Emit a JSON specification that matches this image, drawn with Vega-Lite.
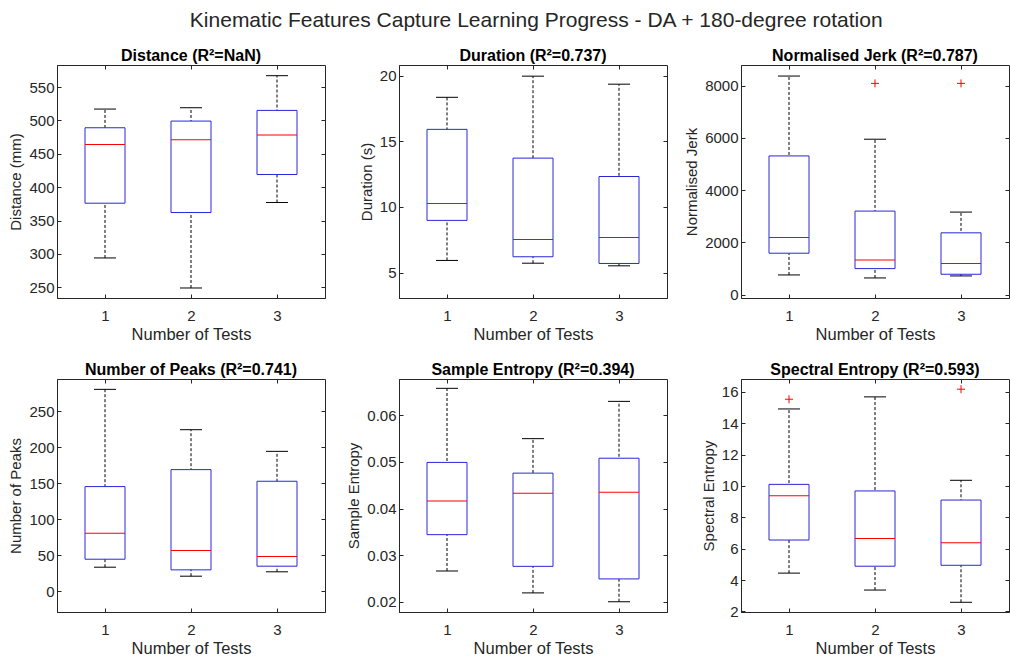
{
  "$schema": "https://vega.github.io/schema/vega-lite/v6.json",
  "title": {"text": "Kinematic Features Capture Learning Progress - DA + 180-degree rotation", "fontSize": 21, "fontWeight": "normal", "color": "#262626", "anchor": "middle", "offset": 16, "dx": 27},
  "padding": {"left": 8, "top": 10, "right": 0, "bottom": 0},
  "bounds": "flush",
  "columns": 3,
  "spacing": {"row": 81, "column": 74},
  "datasets": {
    "boxes": [
      {"panel": "Distance", "test": 1, "lo": 294, "q1": 376, "med": 464, "q3": 489, "hi": 517},
      {"panel": "Distance", "test": 2, "lo": 249, "q1": 362, "med": 471, "q3": 499, "hi": 519},
      {"panel": "Distance", "test": 3, "lo": 377, "q1": 419, "med": 478, "q3": 515, "hi": 567},
      {"panel": "Duration", "test": 1, "lo": 5.92, "q1": 8.97, "med": 10.25, "q3": 15.9, "hi": 18.34},
      {"panel": "Duration", "test": 2, "lo": 5.71, "q1": 6.2, "med": 7.52, "q3": 13.71, "hi": 19.95},
      {"panel": "Duration", "test": 3, "lo": 5.51, "q1": 5.69, "med": 7.67, "q3": 12.31, "hi": 19.34},
      {"panel": "Jerk", "test": 1, "lo": 755, "q1": 1587, "med": 2189, "q3": 5312, "hi": 8371},
      {"panel": "Jerk", "test": 2, "lo": 640, "q1": 998, "med": 1331, "q3": 3200, "hi": 5952},
      {"panel": "Jerk", "test": 3, "lo": 717, "q1": 781, "med": 1190, "q3": 2368, "hi": 3162},
      {"panel": "Peaks", "test": 1, "lo": 33.3, "q1": 44.4, "med": 80.6, "q3": 145.4, "hi": 280.6},
      {"panel": "Peaks", "test": 2, "lo": 20.8, "q1": 29.6, "med": 56.5, "q3": 169, "hi": 224.5},
      {"panel": "Peaks", "test": 3, "lo": 26.9, "q1": 34.7, "med": 48.1, "q3": 152.8, "hi": 194.4},
      {"panel": "SampEn", "test": 1, "lo": 0.0266, "q1": 0.0344, "med": 0.0416, "q3": 0.0499, "hi": 0.0658},
      {"panel": "SampEn", "test": 2, "lo": 0.0219, "q1": 0.0276, "med": 0.0433, "q3": 0.0476, "hi": 0.055},
      {"panel": "SampEn", "test": 3, "lo": 0.02, "q1": 0.0249, "med": 0.0435, "q3": 0.0508, "hi": 0.063},
      {"panel": "SpecEn", "test": 1, "lo": 4.44, "q1": 6.55, "med": 9.38, "q3": 10.1, "hi": 14.91},
      {"panel": "SpecEn", "test": 2, "lo": 3.36, "q1": 4.88, "med": 6.65, "q3": 9.68, "hi": 15.68},
      {"panel": "SpecEn", "test": 3, "lo": 2.58, "q1": 4.94, "med": 6.37, "q3": 9.1, "hi": 10.36}
    ],
    "outliers": [
      {"panel": "Jerk", "test": 2, "value": 8090},
      {"panel": "Jerk", "test": 3, "value": 8090},
      {"panel": "SpecEn", "test": 1, "value": 15.53},
      {"panel": "SpecEn", "test": 3, "value": 16.17}
    ]
  },
  "concat": [
    {
      "width": 268, "height": 233,
      "title": "Distance (R²=NaN)",
      "data": {"name": "boxes"},
      "transform": [{"filter": "datum.panel === 'Distance'"}],
      "encoding": {"x": {"field": "test", "type": "quantitative", "scale": {"domain": [0.5, 3.5]}, "axis": null}},
      "layer": [
        {"mark": {"type": "rule", "color": "#000000", "strokeDash": [3, 2]}, "encoding": {"x": {"field": "test", "type": "quantitative", "axis": {"orient": "bottom", "values": [1, 2, 3], "format": "d", "title": "Number of Tests"}}, "y": {"field": "lo", "type": "quantitative", "scale": {"domain": [234, 583], "nice": false, "zero": false}, "axis": {"orient": "left", "values": [250, 300, 350, 400, 450, 500, 550], "title": "Distance (mm)"}}, "y2": {"field": "hi"}}},
        {"mark": {"type": "tick", "orient": "horizontal", "color": "#000000", "size": 22, "thickness": 1, "opacity": 1}, "encoding": {"x": {"field": "test", "type": "quantitative", "axis": {"orient": "top", "values": [1, 2, 3], "labels": false, "title": null, "domain": false}}, "y": {"field": "lo", "type": "quantitative", "axis": {"orient": "right", "values": [250, 300, 350, 400, 450, 500, 550], "labels": false, "title": null, "domain": false}}}},
        {"mark": {"type": "tick", "orient": "horizontal", "color": "#000000", "size": 22, "thickness": 1, "opacity": 1}, "encoding": {"y": {"field": "hi", "type": "quantitative", "axis": null}}},
        {"mark": {"type": "bar", "size": 40, "fill": "#ffffff", "stroke": "#2828d8", "strokeWidth": 1}, "encoding": {"y": {"field": "q1", "type": "quantitative", "axis": null}, "y2": {"field": "q3"}}},
        {"mark": {"type": "tick", "orient": "horizontal", "color": "#ff0000", "size": 40, "thickness": 1, "opacity": 1}, "encoding": {"y": {"field": "med", "type": "quantitative", "axis": null}}}
      ]
    },
    {
      "width": 268, "height": 233,
      "title": "Duration (R²=0.737)",
      "data": {"name": "boxes"},
      "transform": [{"filter": "datum.panel === 'Duration'"}],
      "encoding": {"x": {"field": "test", "type": "quantitative", "scale": {"domain": [0.5, 3.5]}, "axis": null}},
      "layer": [
        {"mark": {"type": "rule", "color": "#000000", "strokeDash": [3, 2]}, "encoding": {"x": {"field": "test", "type": "quantitative", "axis": {"orient": "bottom", "values": [1, 2, 3], "format": "d", "title": "Number of Tests"}}, "y": {"field": "lo", "type": "quantitative", "scale": {"domain": [3.06, 20.8], "nice": false, "zero": false}, "axis": {"orient": "left", "values": [5, 10, 15, 20], "title": "Duration (s)"}}, "y2": {"field": "hi"}}},
        {"mark": {"type": "tick", "orient": "horizontal", "color": "#000000", "size": 22, "thickness": 1, "opacity": 1}, "encoding": {"x": {"field": "test", "type": "quantitative", "axis": {"orient": "top", "values": [1, 2, 3], "labels": false, "title": null, "domain": false}}, "y": {"field": "lo", "type": "quantitative", "axis": {"orient": "right", "values": [5, 10, 15, 20], "labels": false, "title": null, "domain": false}}}},
        {"mark": {"type": "tick", "orient": "horizontal", "color": "#000000", "size": 22, "thickness": 1, "opacity": 1}, "encoding": {"y": {"field": "hi", "type": "quantitative", "axis": null}}},
        {"mark": {"type": "bar", "size": 40, "fill": "#ffffff", "stroke": "#2828d8", "strokeWidth": 1}, "encoding": {"y": {"field": "q1", "type": "quantitative", "axis": null}, "y2": {"field": "q3"}}},
        {"mark": {"type": "tick", "orient": "horizontal", "color": "#ff0000", "size": 40, "thickness": 1, "opacity": 1}, "encoding": {"y": {"field": "med", "type": "quantitative", "axis": null}}}
      ]
    },
    {
      "width": 268, "height": 233,
      "title": "Normalised Jerk (R²=0.787)",
      "data": {"name": "boxes"},
      "transform": [{"filter": "datum.panel === 'Jerk'"}],
      "encoding": {"x": {"field": "test", "type": "quantitative", "scale": {"domain": [0.5, 3.5]}, "axis": null}},
      "layer": [
        {"mark": {"type": "rule", "color": "#000000", "strokeDash": [3, 2]}, "encoding": {"x": {"field": "test", "type": "quantitative", "axis": {"orient": "bottom", "values": [1, 2, 3], "format": "d", "title": "Number of Tests"}}, "y": {"field": "lo", "type": "quantitative", "scale": {"domain": [-128, 8794], "nice": false, "zero": false}, "axis": {"orient": "left", "values": [0, 2000, 4000, 6000, 8000], "format": "d", "title": "Normalised Jerk"}}, "y2": {"field": "hi"}}},
        {"mark": {"type": "tick", "orient": "horizontal", "color": "#000000", "size": 22, "thickness": 1, "opacity": 1}, "encoding": {"x": {"field": "test", "type": "quantitative", "axis": {"orient": "top", "values": [1, 2, 3], "labels": false, "title": null, "domain": false}}, "y": {"field": "lo", "type": "quantitative", "axis": {"orient": "right", "values": [0, 2000, 4000, 6000, 8000], "labels": false, "title": null, "domain": false}}}},
        {"mark": {"type": "tick", "orient": "horizontal", "color": "#000000", "size": 22, "thickness": 1, "opacity": 1}, "encoding": {"y": {"field": "hi", "type": "quantitative", "axis": null}}},
        {"mark": {"type": "bar", "size": 40, "fill": "#ffffff", "stroke": "#2828d8", "strokeWidth": 1}, "encoding": {"y": {"field": "q1", "type": "quantitative", "axis": null}, "y2": {"field": "q3"}}},
        {"mark": {"type": "tick", "orient": "horizontal", "color": "#ff0000", "size": 40, "thickness": 1, "opacity": 1}, "encoding": {"y": {"field": "med", "type": "quantitative", "axis": null}}},
        {"data": {"name": "outliers"}, "transform": [{"filter": "datum.panel === 'Jerk'"}], "mark": {"type": "point", "shape": "M-1,0L1,0M0,-1L0,1", "filled": false, "stroke": "#ff0000", "strokeWidth": 1, "size": 64, "opacity": 1}, "encoding": {"y": {"field": "value", "type": "quantitative", "axis": null}}}
      ]
    },
    {
      "width": 268, "height": 233,
      "title": "Number of Peaks (R²=0.741)",
      "data": {"name": "boxes"},
      "transform": [{"filter": "datum.panel === 'Peaks'"}],
      "encoding": {"x": {"field": "test", "type": "quantitative", "scale": {"domain": [0.5, 3.5]}, "axis": null}},
      "layer": [
        {"mark": {"type": "rule", "color": "#000000", "strokeDash": [3, 2]}, "encoding": {"x": {"field": "test", "type": "quantitative", "axis": {"orient": "bottom", "values": [1, 2, 3], "format": "d", "title": "Number of Tests"}}, "y": {"field": "lo", "type": "quantitative", "scale": {"domain": [-29, 295], "nice": false, "zero": false}, "axis": {"orient": "left", "values": [0, 50, 100, 150, 200, 250], "title": "Number of Peaks"}}, "y2": {"field": "hi"}}},
        {"mark": {"type": "tick", "orient": "horizontal", "color": "#000000", "size": 22, "thickness": 1, "opacity": 1}, "encoding": {"x": {"field": "test", "type": "quantitative", "axis": {"orient": "top", "values": [1, 2, 3], "labels": false, "title": null, "domain": false}}, "y": {"field": "lo", "type": "quantitative", "axis": {"orient": "right", "values": [0, 50, 100, 150, 200, 250], "labels": false, "title": null, "domain": false}}}},
        {"mark": {"type": "tick", "orient": "horizontal", "color": "#000000", "size": 22, "thickness": 1, "opacity": 1}, "encoding": {"y": {"field": "hi", "type": "quantitative", "axis": null}}},
        {"mark": {"type": "bar", "size": 40, "fill": "#ffffff", "stroke": "#2828d8", "strokeWidth": 1}, "encoding": {"y": {"field": "q1", "type": "quantitative", "axis": null}, "y2": {"field": "q3"}}},
        {"mark": {"type": "tick", "orient": "horizontal", "color": "#ff0000", "size": 40, "thickness": 1, "opacity": 1}, "encoding": {"y": {"field": "med", "type": "quantitative", "axis": null}}}
      ]
    },
    {
      "width": 268, "height": 233,
      "title": "Sample Entropy (R²=0.394)",
      "data": {"name": "boxes"},
      "transform": [{"filter": "datum.panel === 'SampEn'"}],
      "encoding": {"x": {"field": "test", "type": "quantitative", "scale": {"domain": [0.5, 3.5]}, "axis": null}},
      "layer": [
        {"mark": {"type": "rule", "color": "#000000", "strokeDash": [3, 2]}, "encoding": {"x": {"field": "test", "type": "quantitative", "axis": {"orient": "bottom", "values": [1, 2, 3], "format": "d", "title": "Number of Tests"}}, "y": {"field": "lo", "type": "quantitative", "scale": {"domain": [0.0178, 0.0678], "nice": false, "zero": false}, "axis": {"orient": "left", "values": [0.02, 0.03, 0.04, 0.05, 0.06], "format": ".2f", "title": "Sample Entropy"}}, "y2": {"field": "hi"}}},
        {"mark": {"type": "tick", "orient": "horizontal", "color": "#000000", "size": 22, "thickness": 1, "opacity": 1}, "encoding": {"x": {"field": "test", "type": "quantitative", "axis": {"orient": "top", "values": [1, 2, 3], "labels": false, "title": null, "domain": false}}, "y": {"field": "lo", "type": "quantitative", "axis": {"orient": "right", "values": [0.02, 0.03, 0.04, 0.05, 0.06], "labels": false, "title": null, "domain": false}}}},
        {"mark": {"type": "tick", "orient": "horizontal", "color": "#000000", "size": 22, "thickness": 1, "opacity": 1}, "encoding": {"y": {"field": "hi", "type": "quantitative", "axis": null}}},
        {"mark": {"type": "bar", "size": 40, "fill": "#ffffff", "stroke": "#2828d8", "strokeWidth": 1}, "encoding": {"y": {"field": "q1", "type": "quantitative", "axis": null}, "y2": {"field": "q3"}}},
        {"mark": {"type": "tick", "orient": "horizontal", "color": "#ff0000", "size": 40, "thickness": 1, "opacity": 1}, "encoding": {"y": {"field": "med", "type": "quantitative", "axis": null}}}
      ]
    },
    {
      "width": 268, "height": 233,
      "title": "Spectral Entropy (R²=0.593)",
      "data": {"name": "boxes"},
      "transform": [{"filter": "datum.panel === 'SpecEn'"}],
      "encoding": {"x": {"field": "test", "type": "quantitative", "scale": {"domain": [0.5, 3.5]}, "axis": null}},
      "layer": [
        {"mark": {"type": "rule", "color": "#000000", "strokeDash": [3, 2]}, "encoding": {"x": {"field": "test", "type": "quantitative", "axis": {"orient": "bottom", "values": [1, 2, 3], "format": "d", "title": "Number of Tests"}}, "y": {"field": "lo", "type": "quantitative", "scale": {"domain": [1.96, 16.82], "nice": false, "zero": false}, "axis": {"orient": "left", "values": [2, 4, 6, 8, 10, 12, 14, 16], "format": "d", "title": "Spectral Entropy"}}, "y2": {"field": "hi"}}},
        {"mark": {"type": "tick", "orient": "horizontal", "color": "#000000", "size": 22, "thickness": 1, "opacity": 1}, "encoding": {"x": {"field": "test", "type": "quantitative", "axis": {"orient": "top", "values": [1, 2, 3], "labels": false, "title": null, "domain": false}}, "y": {"field": "lo", "type": "quantitative", "axis": {"orient": "right", "values": [2, 4, 6, 8, 10, 12, 14, 16], "labels": false, "title": null, "domain": false}}}},
        {"mark": {"type": "tick", "orient": "horizontal", "color": "#000000", "size": 22, "thickness": 1, "opacity": 1}, "encoding": {"y": {"field": "hi", "type": "quantitative", "axis": null}}},
        {"mark": {"type": "bar", "size": 40, "fill": "#ffffff", "stroke": "#2828d8", "strokeWidth": 1}, "encoding": {"y": {"field": "q1", "type": "quantitative", "axis": null}, "y2": {"field": "q3"}}},
        {"mark": {"type": "tick", "orient": "horizontal", "color": "#ff0000", "size": 40, "thickness": 1, "opacity": 1}, "encoding": {"y": {"field": "med", "type": "quantitative", "axis": null}}},
        {"data": {"name": "outliers"}, "transform": [{"filter": "datum.panel === 'SpecEn'"}], "mark": {"type": "point", "shape": "M-1,0L1,0M0,-1L0,1", "filled": false, "stroke": "#ff0000", "strokeWidth": 1, "size": 64, "opacity": 1}, "encoding": {"y": {"field": "value", "type": "quantitative", "axis": null}}}
      ]
    }
  ],
  "config": {
    "font": "Liberation Sans",
    "background": "#ffffff",
    "view": {"stroke": "#262626", "strokeWidth": 1},
    "axis": {"labelFont": "Liberation Sans", "titleFont": "Liberation Sans", "labelFontSize": 15, "titleFontSize": 15, "titleFontWeight": "normal", "labelColor": "#262626", "titleColor": "#262626", "domainColor": "#262626", "tickColor": "#262626", "tickSize": -4, "labelPadding": 7, "grid": false, "titlePadding": 5, "labelOverlap": false},
    "axisX": {"titleFontSize": 16.5, "titlePadding": 3, "labelPadding": 14},
    "title": {"font": "Liberation Sans", "fontSize": 16, "fontWeight": "bold", "color": "#000000", "offset": 1}
  }
}
